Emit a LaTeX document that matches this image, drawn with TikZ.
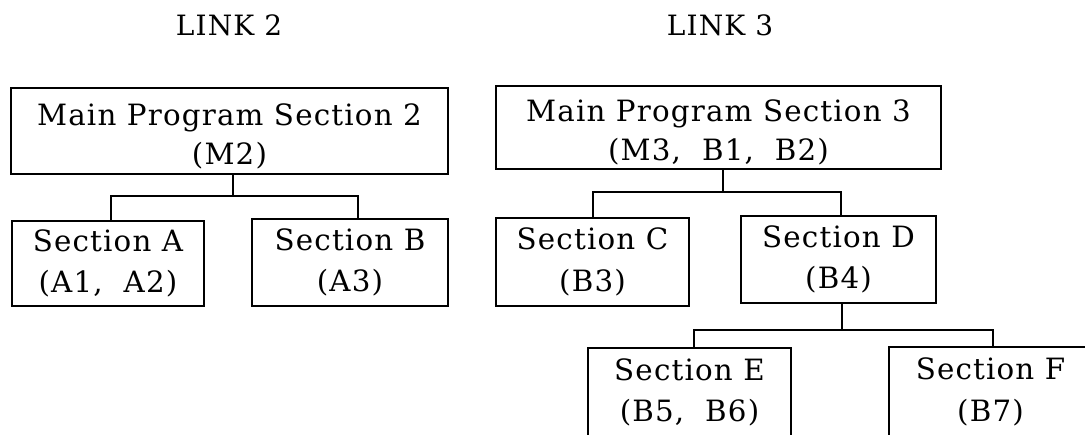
\documentclass[tikz,border=0pt]{standalone}
\usepackage{fontspec}
\setmainfont{DejaVu Serif}[LetterSpace=4]
\newcommand{\lowerstrut}{\rule{0pt}{24pt}}
\newcommand{\nl}{\\[4pt]}
\begin{document}
\begin{tikzpicture}[x=0.75pt,y=-0.75pt,
  box/.style={draw,line width=1.2pt,align=center,inner sep=0pt,
    font=\fontsize{22}{27}\selectfont},
  title/.style={font=\fontsize{21}{27}\selectfont},
  conn/.style={line width=1.2pt}]
\useasboundingbox (0,0) rectangle (1085,435);
\clip (0,0) rectangle (1085,435);
\node[title] (l2) at (229,25) {LINK 2};
\node[title] (l3) at (720,25) {LINK 3};
\node[box,minimum width=437*0.75pt,minimum height=86*0.75pt] (m2) at (229.5,131) {\lowerstrut Main Program Section 2\\[2pt](M2)};
\node[box,minimum width=445*0.75pt,minimum height=83*0.75pt] (m3) at (718.5,127.5) {\lowerstrut Main Program Section 3\\[2pt](M3,\ \ B1,\ \ B2)};
\node[box,minimum width=192*0.75pt,minimum height=85*0.75pt] (a) at (108,263.5) {Section A\nl(A1,\ \ A2)};
\node[box,minimum width=196*0.75pt,minimum height=87*0.75pt] (b) at (350,262.5) {Section B\nl(A3)};
\node[box,minimum width=193*0.75pt,minimum height=88*0.75pt] (c) at (592.5,262) {Section C\nl(B3)};
\node[box,minimum width=195*0.75pt,minimum height=87*0.75pt] (d) at (838.5,259.5) {Section D\nl(B4)};
\node[box,minimum width=203*0.75pt,minimum height=89*0.75pt] (e) at (689.5,392.5) {Section E\nl(B5,\ \ B6)};
\node[box,minimum width=203*0.75pt,minimum height=90*0.75pt] (f) at (990.5,392) {Section F\nl(B7)};
% junctions
\coordinate (j2) at (233,196);
\coordinate (xa) at (111,0);
\coordinate (xb) at (358,0);
\coordinate (j3) at (723,192);
\coordinate (xc) at (593,0);
\coordinate (xd) at (841,0);
\coordinate (j4) at (842,330);
\coordinate (xe) at (694,0);
\coordinate (xf) at (993,0);
\draw[conn] (m2.south -| j2) -- (j2);
\draw[conn] (a.north -| xa) |- (j2) -| (b.north -| xb);
\draw[conn] (m3.south -| j3) -- (j3);
\draw[conn] (c.north -| xc) |- (j3) -| (d.north -| xd);
\draw[conn] (d.south -| j4) -- (j4);
\draw[conn] (e.north -| xe) |- (j4) -| (f.north -| xf);
\end{tikzpicture}
\end{document}
